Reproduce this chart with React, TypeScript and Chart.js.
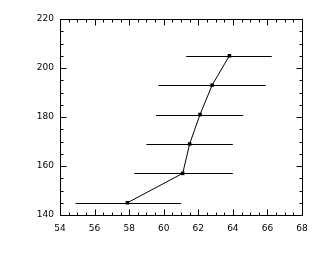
import React, { useEffect, useRef } from "react";
import { Chart, registerables } from "chart.js";

Chart.register(...registerables);

const xValues = [57.9, 61.1, 61.5, 62.1, 62.8, 63.8];
const yValues = [145, 157, 169, 181, 193, 205];
const xErrLow = [54.9, 58.3, 59.0, 59.55, 59.7, 61.3];
const xErrHigh = [61.0, 64.0, 64.0, 64.6, 65.9, 66.25];

const xMin = 54;
const xMax = 68;
const xMajor = 2;
const xMinor = 0.5;
const yMin = 140;
const yMax = 220;
const yMajor = 20;
const yMinor = 5;

const framePlugin = {
  id: "frameAndErrors",
  afterDatasetsDraw(chart: any) {
    const ctx = chart.ctx as CanvasRenderingContext2D;
    const xs = chart.scales.x;
    const ys = chart.scales.y;
    const { left, right, top, bottom } = chart.chartArea;
    ctx.save();
    ctx.strokeStyle = "#000";
    ctx.lineWidth = 1;
    // error bars
    ctx.beginPath();
    for (let i = 0; i < yValues.length; i++) {
      const y = Math.round(ys.getPixelForValue(yValues[i])) + 0.5;
      ctx.moveTo(xs.getPixelForValue(xErrLow[i]), y);
      ctx.lineTo(xs.getPixelForValue(xErrHigh[i]), y);
    }
    ctx.stroke();
    // frame
    const L = Math.round(left) + 0.5;
    const R = Math.round(right) + 0.5;
    const T = Math.round(top) + 0.5;
    const B = Math.round(bottom) + 0.5;
    ctx.beginPath();
    ctx.rect(L, T, R - L, B - T);
    for (let v = xMin; v <= xMax + 1e-9; v += xMinor) {
      const isMajor = Math.abs(v / xMajor - Math.round(v / xMajor)) < 1e-6;
      const len = isMajor ? 6 : 3;
      const px = Math.round(xs.getPixelForValue(v)) + 0.5;
      ctx.moveTo(px, B);
      ctx.lineTo(px, B - len);
      ctx.moveTo(px, T);
      ctx.lineTo(px, T + len);
    }
    for (let v = yMin; v <= yMax + 1e-9; v += yMinor) {
      const isMajor = Math.abs(v / yMajor - Math.round(v / yMajor)) < 1e-6;
      const len = isMajor ? 6 : 3;
      const py = Math.round(ys.getPixelForValue(v)) + 0.5;
      ctx.moveTo(L, py);
      ctx.lineTo(L + len, py);
      ctx.moveTo(R, py);
      ctx.lineTo(R - len, py);
    }
    ctx.stroke();
    ctx.restore();
  },
};

export default function App() {
  const ref = useRef<HTMLCanvasElement>(null);
  useEffect(() => {
    if (!ref.current) return;
    const chart = new Chart(ref.current, {
      type: "scatter",
      data: {
        datasets: [
          {
            data: xValues.map((x, i) => ({ x, y: yValues[i] })),
            showLine: true,
            borderColor: "#000",
            backgroundColor: "#000",
            borderWidth: 1,
            pointRadius: 2.5,
            pointStyle: "rect",
            pointBorderWidth: 0,
          },
        ],
      },
      options: {
        responsive: false,
        animation: false,
        events: [],
        layout: { padding: { left: 0, right: 18, top: 19, bottom: 0 } },
        plugins: { legend: { display: false }, tooltip: { enabled: false } },
        scales: {
          x: {
            type: "linear",
            min: xMin,
            max: xMax,
            ticks: {
              stepSize: xMajor,
              color: "#000",
              padding: 8,
              maxRotation: 0,
              font: { family: "DejaVu Sans", size: 9 },
            },
            grid: { display: false, drawTicks: false },
            border: { display: false },
            afterFit: (s: any) => {
              s.height = 41;
            },
          },
          y: {
            type: "linear",
            min: yMin,
            max: yMax,
            ticks: {
              stepSize: yMajor,
              color: "#000",
              padding: 6,
              font: { family: "DejaVu Sans", size: 9 },
            },
            grid: { display: false, drawTicks: false },
            border: { display: false },
            afterFit: (s: any) => {
              s.width = 60;
            },
          },
        },
      },
      plugins: [framePlugin],
    });
    return () => chart.destroy();
  }, []);
  return (
    <div style={{ position: "absolute", left: 0, top: 0, width: 320, height: 256, background: "#fff" }}>
      <canvas ref={ref} width={320} height={256} />
    </div>
  );
}
